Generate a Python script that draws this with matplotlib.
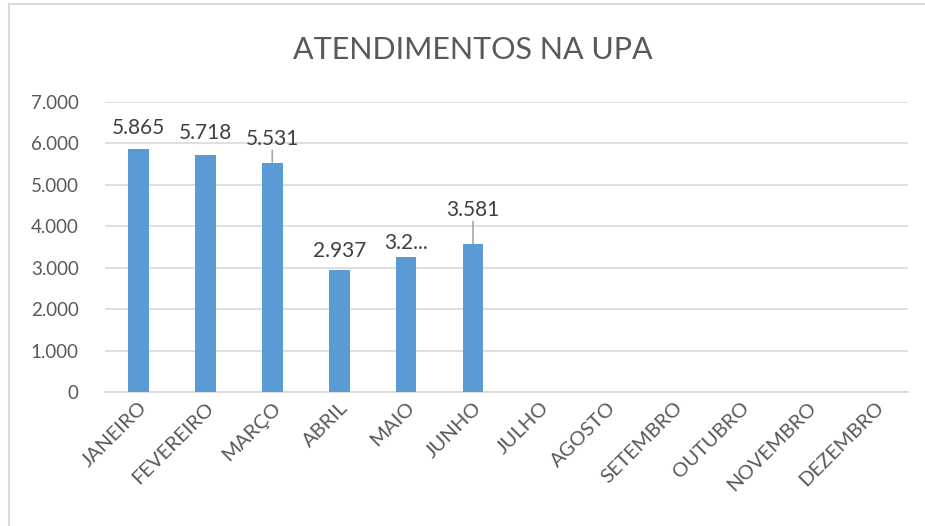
import matplotlib
matplotlib.use("Agg")
import matplotlib.pyplot as plt
from matplotlib.patches import Rectangle
from matplotlib.ticker import FuncFormatter

plt.rcParams["font.family"] = ["Lato", "DejaVu Sans"]

MONTHS = ["JANEIRO", "FEVEREIRO", "MARÇO", "ABRIL", "MAIO", "JUNHO",
          "JULHO", "AGOSTO", "SETEMBRO", "OUTUBRO", "NOVEMBRO", "DEZEMBRO"]
VALUES = [5865, 5718, 5531, 2937, 3258, 3581]
LABELS = ["5.865", "5.718", "5.531", "2.937", "3.2...", "3.581"]
# label offset above bar top (points) and whether a leader line is drawn
LABEL_OFFSETS = [8, 9, 10, 7, 3, 17]
LEADERS = [False, False, True, False, False, True]
YTICKS = [0, 1000, 2000, 3000, 4000, 5000, 6000, 7000]

BAR_COLOR = "#5B9BD5"
GRID = "#D9D9D9"
TXT = "#595959"

fig = plt.figure(figsize=(9.25, 5.26), dpi=100)
ax = fig.add_axes([0.1135, 0.2548, 0.8681, 0.5513])

x = list(range(len(MONTHS)))
ax.bar(x[:len(VALUES)], VALUES, width=0.31, color=BAR_COLOR, zorder=3)

ax.set_xlim(-0.5, len(MONTHS) - 0.5)
ax.set_ylim(0, 7000)
ax.set_yticks(YTICKS)
ax.yaxis.set_major_formatter(FuncFormatter(
    lambda v, p: "0" if v == 0 else f"{int(v):,}".replace(",", ".")))
ax.set_xticks(x)
ax.set_xticklabels(MONTHS, rotation=45, ha="right", rotation_mode="anchor",
                   fontsize=14.5, color=TXT)
ax.tick_params(axis="x", length=0, pad=5)
ax.tick_params(axis="y", length=0, pad=19, labelsize=13.5, labelcolor=TXT)

ax.grid(axis="y", color=GRID, lw=1.2, zorder=0)
for s in ["top", "right", "left"]:
    ax.spines[s].set_visible(False)
ax.spines["bottom"].set_color(GRID)
ax.spines["bottom"].set_linewidth(1.2)

for i, (v, txt) in enumerate(zip(VALUES, LABELS)):
    off = LABEL_OFFSETS[i]
    ax.annotate(txt, (i, v), xytext=(0, off), textcoords="offset points",
                ha="center", va="bottom", fontsize=15, color="#404040",
                zorder=5)
    if LEADERS[i]:
        ax.annotate("", (i, v), xytext=(0, off - 1), textcoords="offset points",
                    arrowprops=dict(arrowstyle="-", color="#A6A6A6", lw=1.2,
                                    shrinkA=0, shrinkB=0))

fig.text(0.511, 0.905, "ATENDIMENTOS NA UPA", ha="center", va="center",
         fontsize=22, color=TXT)

fig.patches.append(Rectangle((8.5 / 925, -0.1), 1.2, 1.1 - 4 / 526,
                             transform=fig.transFigure, fill=False,
                             edgecolor="#D9D9D9", lw=1.5))

fig.savefig("out.png", dpi=100)
